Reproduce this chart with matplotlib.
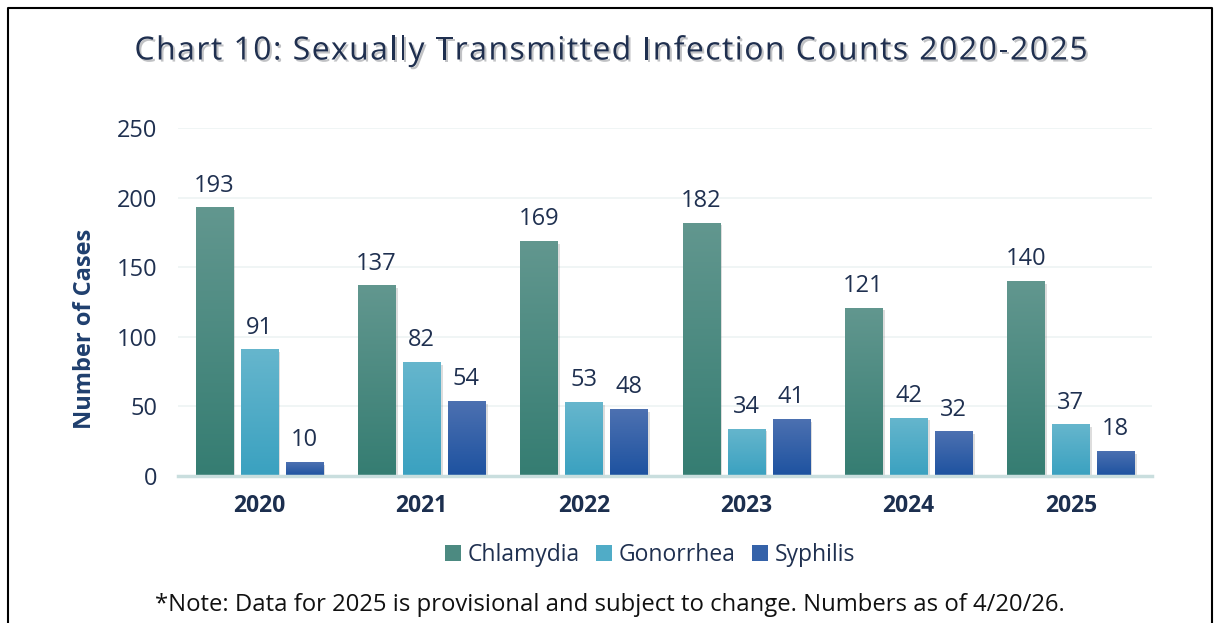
import numpy as np
import matplotlib.pyplot as plt
import matplotlib.patheffects as pe
from matplotlib.colors import LinearSegmentedColormap, to_rgb
from matplotlib.patches import Patch

plt.rcParams['font.family'] = ['Open Sans', 'DejaVu Sans']

years = ['2020', '2021', '2022', '2023', '2024', '2025']
chlamydia = [193, 137, 169, 182, 121, 140]
gonorrhea = [91, 82, 53, 34, 42, 37]
syphilis = [10, 54, 48, 41, 32, 18]
series_names = ['Chlamydia', 'Gonorrhea', 'Syphilis']
title = 'Chart 10: Sexually Transmitted Infection Counts 2020-2025'
note = '*Note: Data for 2025 is provisional and subject to change. Numbers as of 4/20/26.'

# top colour -> bottom colour for each series
grads = [('#62978f', '#357d72'), ('#66b6cd', '#3aa1c0'), ('#4d71b1', '#1d52a0')]
text_navy = '#1f3050'
W, H = 1215, 623

fig = plt.figure(figsize=(12.15, 6.23), dpi=100)
ax = fig.add_axes([178 / W, 1 - 476 / H, 974 / W, 348 / H])

x = np.arange(len(years))
w = 0.228
step = 0.277
data = [chlamydia, gonorrhea, syphilis]

grad_img = np.linspace(0, 1, 256).reshape(-1, 1)
for i, (vals, (top, bot)) in enumerate(zip(data, grads)):
    cmap = LinearSegmentedColormap.from_list(series_names[i], [bot, top])
    xs = x + (i - 1) * step
    bars = ax.bar(xs, vals, w, color=bot, label=series_names[i], zorder=2,
                  path_effects=[pe.SimplePatchShadow(offset=(2, -2), alpha=0.2, shadow_rgbFace='#555555'), pe.Normal()])
    for b, v in zip(bars, vals):
        im = ax.imshow(grad_img, cmap=cmap, origin='lower', aspect='auto',
                       extent=[b.get_x(), b.get_x() + w, 0, v], zorder=3)
        im.set_clip_path(b)
        ax.text(b.get_x() + w / 2, v + 7, str(v), ha='center', va='bottom',
                fontsize=17, color=text_navy, zorder=4)

ax.set_xlim(-0.5, len(years) - 0.5)
ax.set_ylim(0, 250)
ax.set_yticks(range(0, 251, 50))
ax.grid(axis='y', color='#eef3f3', linewidth=1.2, zorder=0)
ax.set_axisbelow(True)
for s in ['top', 'right', 'left']:
    ax.spines[s].set_visible(False)
ax.spines['bottom'].set_color('#c9dede')
ax.spines['bottom'].set_linewidth(2.5)
ax.spines['bottom'].set_zorder(5)
ax.tick_params(axis='both', length=0)
ax.tick_params(axis='y', labelsize=17, labelcolor=text_navy, pad=15)
ax.set_xticks(x)
ax.set_xticklabels(years, fontsize=16.5, fontweight='bold', color='#1c2f4f')
ax.tick_params(axis='x', pad=13)
ax.set_ylabel('Number of Cases', fontsize=17, fontweight='bold', color='#1f3f6e')
ax.yaxis.set_label_coords(-0.083, (476 - 329) / 348)

handles = [Patch(facecolor=(np.array(to_rgb(t)) + np.array(to_rgb(b))) / 2, edgecolor='none') for t, b in grads]
fig.legend(handles, series_names, loc='center', bbox_to_anchor=(650 / W, 1 - 555 / H),
           ncol=3, frameon=False, fontsize=16.5, handlelength=0.7, handleheight=0.7,
           handletextpad=0.3, columnspacing=0.7, labelcolor=text_navy)

fig.text(610 / W, 1 - 605 / H, note, ha='center', va='center', fontsize=17.2, color='#111111')

# title with letter spacing, laid out one character at a time
renderer = fig.canvas.get_renderer()
t_size = 23
spacing = 1.4  # extra px between characters
shadow = [pe.SimplePatchShadow(offset=(1.5, -1.5), alpha=0.25), pe.Normal()]
probe = fig.text(0, 0, title, fontsize=t_size)
full_w = probe.get_window_extent(renderer).width
probe.remove()
total = full_w + spacing * (len(title) - 1)
x0 = 611 - total / 2
for k, ch in enumerate(title):
    if k == 0:
        pre_w = 0
    else:
        p = fig.text(0, 0, title[:k] + '|', fontsize=t_size)
        q = fig.text(0, 0, '|', fontsize=t_size)
        pre_w = p.get_window_extent(renderer).width - q.get_window_extent(renderer).width
        p.remove()
        q.remove()
    fig.text((x0 + pre_w + spacing * k) / W, 1 - 51 / H, ch, ha='left', va='center',
             fontsize=t_size, color='#1f2f4f', path_effects=shadow)

# outer frame (left, top, right)
fig.add_artist(plt.Line2D([8 / W, 8 / W, 1212 / W, 1212 / W],
                          [0, 1 - 8 / H, 1 - 8 / H, 0], color='black', linewidth=1.5,
                          transform=fig.transFigure))

fig.savefig('out.png', dpi=100)
